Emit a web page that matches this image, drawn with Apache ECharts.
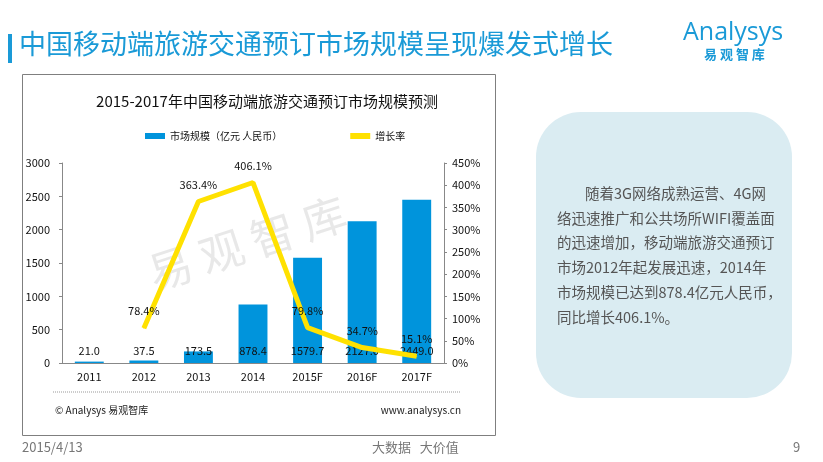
<!DOCTYPE html>
<html><head><meta charset="utf-8">
<script src="https://cdn.jsdelivr.net/npm/echarts@6/dist/echarts.min.js"></script>
<style>html,body{margin:0;padding:0;background:#fff}#c{width:823px;height:462px}</style>
</head><body><div id="c"></div>
<script>
const categories = ['2011','2012','2013','2014','2015F','2016F','2017F'];
const marketSize = [21.0, 37.5, 173.5, 878.4, 1579.7, 2127.0, 2449.0];
const growthRate = [null, 78.4, 363.4, 406.1, 79.8, 34.7, 15.1];
const leftTicks = [0, 3000, 500];
const rightTicks = [0, 450, 50];
const textLines = [
  '随着3G网络成熟运营、4G网',
  '络迅速推广和公共场所WIFI覆盖面',
  '的迅速增加，移动端旅游交通预订',
  '市场2012年起发展迅速，2014年',
  '市场规模已达到878.4亿元人民币，',
  '同比增长406.1%。'
];

const CJK = '"Noto Sans CJK SC","Noto Sans",sans-serif';
const chart = echarts.init(document.getElementById('c'));

const textEls = textLines.map((t, i) => ({
  type: 'text', left: i === 0 ? 585 : 557, top: 186 + i * 24.8, z: 10,
  style: { text: t, fill: '#555', font: '14.5px ' + CJK }
}));

chart.setOption({
  animation: false,
  backgroundColor: '#fff',
  textStyle: { fontFamily: CJK },
  graphic: [
    { type: 'rect', left: 8, top: 34, shape: { width: 4, height: 29 }, style: { fill: '#1a9ad7' } },
    { type: 'text', left: 19, top: 30, style: { text: '中国移动端旅游交通预订市场规模呈现爆发式增长', fill: '#1a9ad7', font: '27px ' + CJK } },
    { type: 'text', left: 683, top: 20, style: { text: 'Analysys', fill: '#1a9ad7', font: '25px "Open Sans",sans-serif' } },
    { type: 'text', left: 704, top: 48, style: { text: '易 观 智 库', fill: '#1a9ad7', font: 'bold 13px ' + CJK } },
    { type: 'rect', left: 22, top: 74, z: -1, shape: { width: 473, height: 361 }, style: { fill: '#fff', stroke: '#7f7f7f', lineWidth: 1 } },
    { type: 'line', shape: { x1: 53, y1: 392, x2: 460, y2: 392 }, style: { stroke: '#999', lineWidth: 1, lineDash: [1, 1] } },
    { type: 'text', left: 55, top: 405, style: { text: '© Analysys 易观智库', fill: '#222', font: '10px ' + CJK } },
    { type: 'text', right: 823 - 461, top: 405, style: { text: 'www.analysys.cn', fill: '#222', font: '10px ' + CJK } },
    { type: 'text', x: 247, y: 243, rotation: 18 * Math.PI / 180, z: 0, style: { text: '易 观 智 库', fill: 'rgba(150,150,150,0.22)', font: '44px ' + CJK, align: 'center', verticalAlign: 'middle' } },
    { type: 'rect', left: 536, top: 112, shape: { width: 256, height: 286, r: 45 }, style: { fill: '#daecf2' } },
    ...textEls,
    { type: 'text', left: 22, top: 441, style: { text: '2015/4/13', fill: '#777', font: '13px ' + CJK } },
    { type: 'text', left: 372, top: 441, style: { text: '大数据   大价值', fill: '#777', font: '13px ' + CJK } },
    { type: 'text', left: 793, top: 441, style: { text: '9', fill: '#777', font: '13px ' + CJK } }
  ],
  title: {
    text: '2015-2017年中国移动端旅游交通预订市场规模预测',
    left: 262, top: 89, textAlign: 'center',
    textStyle: { fontSize: 15, fontWeight: 'normal', color: '#111', fontFamily: CJK }
  },
  legend: {
    left: 140, top: 126, itemGap: 68, itemWidth: 20, itemHeight: 6,
    textStyle: { fontSize: 10, color: '#111' },
    data: [{ name: '市场规模（亿元 人民币）', icon: 'rect' }, { name: '增长率', icon: 'rect' }]
  },
  grid: { left: 62, right: 823 - 444, top: 163, bottom: 462 - 363, containLabel: false },
  xAxis: {
    type: 'category', data: categories,
    axisLine: { lineStyle: { color: '#888' } },
    axisTick: { show: false },
    axisLabel: { color: '#111', fontSize: 11, margin: 8 }
  },
  yAxis: [
    { type: 'value', min: leftTicks[0], max: leftTicks[1], interval: leftTicks[2],
      axisLine: { show: true, lineStyle: { color: '#888' } },
      axisTick: { show: true, length: 3, lineStyle: { color: '#888' } },
      splitLine: { show: false },
      axisLabel: { color: '#111', fontSize: 11, margin: 12, formatter: v => String(v) } },
    { type: 'value', min: rightTicks[0], max: rightTicks[1], interval: rightTicks[2],
      axisLine: { show: true, lineStyle: { color: '#888' } },
      axisTick: { show: true, length: 3, lineStyle: { color: '#888' } },
      splitLine: { show: false },
      axisLabel: { color: '#111', fontSize: 11, margin: 8, formatter: v => v + '%' } }
  ],
  series: [
    { name: '市场规模（亿元 人民币）', type: 'bar', data: marketSize, barWidth: '53%',
      itemStyle: { color: '#0094dc' },
      label: { show: true, position: 'insideBottom', distance: 7, color: '#111', fontSize: 11,
        formatter: p => p.value.toFixed(1) } },
    { name: '增长率', type: 'line', yAxisIndex: 1, data: growthRate,
      symbol: 'circle', symbolSize: 1, showSymbol: true,
      lineStyle: { color: '#ffe100', width: 5 }, itemStyle: { color: '#ffe100' },
      label: { show: true, position: 'top', distance: 11, color: '#111', fontSize: 11,
        formatter: p => p.value.toFixed(1) + '%' }, z: 3 }
  ]
});
</script></body></html>
